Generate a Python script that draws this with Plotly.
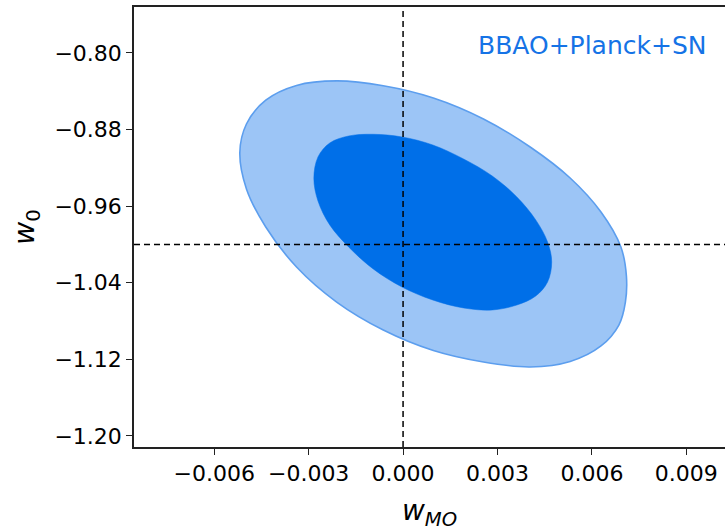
import plotly.graph_objects as go

# 95% contour boundary (w_MO, w_0)
outer_x = [0.007097, 0.007065, 0.006858, 0.006289, 0.005310, 0.004039, 0.002555, 0.000963,
           -0.000629, -0.002110, -0.003385, -0.004363, -0.004977, -0.005187, -0.004977,
           -0.004363, -0.003385, -0.002110, -0.000629, 0.000963, 0.002555, 0.004039,
           0.005310, 0.006289, 0.006922]
outer_y = [-1.0329, -1.0601, -1.0841, -1.1060, -1.1222, -1.1279, -1.1227, -1.1107,
           -1.0893, -1.0601, -1.0235, -0.9817, -0.9420, -0.9039, -0.8742,
           -0.8493, -0.8339, -0.8292, -0.8342, -0.8470, -0.8689, -0.8982,
           -0.9306, -0.9661, -1.0026]

# 68% contour boundary
inner_x = [0.004723, 0.004592, 0.004217, 0.003617, 0.002835, 0.001923, 0.000944, -0.000035,
           -0.000947, -0.001729, -0.002329, -0.002704, -0.002835, -0.002704, -0.002329,
           -0.001729, -0.000947, -0.000035, 0.000944, 0.001923, 0.002835, 0.003617,
           0.004217, 0.004592]
inner_y = [-1.0183, -1.0392, -1.0538, -1.0632, -1.0684, -1.0663, -1.0580, -1.0444,
           -1.0256, -1.0026, -0.9796, -0.9546, -0.9309, -0.9086, -0.8940,
           -0.8867, -0.8849, -0.8877, -0.8961, -0.9107, -0.9285, -0.9504,
           -0.9744, -0.9974]

fiducial_x = 0.0
fiducial_y = -1.0

x_range = [-0.00855, 0.01023]
y_range = [-1.2115, -0.7520]

x_ticks = [-0.006, -0.003, 0.000, 0.003, 0.006, 0.009]
x_ticktext = ["\u22120.006", "\u22120.003", "0.000", "0.003", "0.006", "0.009"]
y_ticks = [-0.80, -0.88, -0.96, -1.04, -1.12, -1.20]
y_ticktext = ["\u22120.80", "\u22120.88", "\u22120.96", "\u22121.04", "\u22121.12", "\u22121.20"]

label = "BBAO+Planck+SN"

fig = go.Figure()
fig.add_trace(go.Scatter(
    x=outer_x + outer_x[:1], y=outer_y + outer_y[:1], mode="lines",
    line=dict(color="#5C9EEE", width=1.6, shape="spline", smoothing=1.0),
    fill="toself", fillcolor="#9CC5F6", hoverinfo="skip", showlegend=False))
fig.add_trace(go.Scatter(
    x=inner_x + inner_x[:1], y=inner_y + inner_y[:1], mode="lines",
    line=dict(color="#006FE8", width=0.5, shape="spline", smoothing=1.0),
    fill="toself", fillcolor="#006FE8", hoverinfo="skip", showlegend=False))
# fiducial dashed lines
fig.add_trace(go.Scatter(
    x=[fiducial_x, fiducial_x], y=y_range, mode="lines",
    line=dict(color="black", width=1.5, dash="6px,4px"), hoverinfo="skip", showlegend=False))
fig.add_trace(go.Scatter(
    x=x_range, y=[fiducial_y, fiducial_y], mode="lines",
    line=dict(color="black", width=1.5, dash="6px,4px"), hoverinfo="skip", showlegend=False))

fig.add_annotation(text=label, xref="paper", yref="paper", x=0.973, y=0.913,
                   xanchor="right", yanchor="middle", showarrow=False,
                   font=dict(family="DejaVu Sans", size=25, color="#1573E6"))

fig.update_layout(
    width=725, height=531,
    margin=dict(l=134, r=0, t=7, b=84),
    paper_bgcolor="white", plot_bgcolor="white",
    font=dict(family="DejaVu Sans", size=22, color="black"),
    xaxis=dict(range=x_range, tickvals=x_ticks, ticktext=x_ticktext,
               showgrid=False, zeroline=False, showline=True, linecolor="#222",
               linewidth=1.5, mirror=True, ticks="outside", ticklen=6,
               tickwidth=1.2, tickcolor="#222",
               title=dict(text="<i>w<sub>MO</sub></i>", font=dict(size=28), standoff=21)),
    yaxis=dict(range=y_range, tickvals=y_ticks, ticktext=y_ticktext,
               showgrid=False, zeroline=False, showline=True, linecolor="#222",
               linewidth=1.5, ticks="outside", ticklen=6,
               tickwidth=1.2, tickcolor="#222",
               title=dict(text="<i>w</i><sub>0</sub>", font=dict(size=28), standoff=12)),
)

fig.write_html("out.html")
